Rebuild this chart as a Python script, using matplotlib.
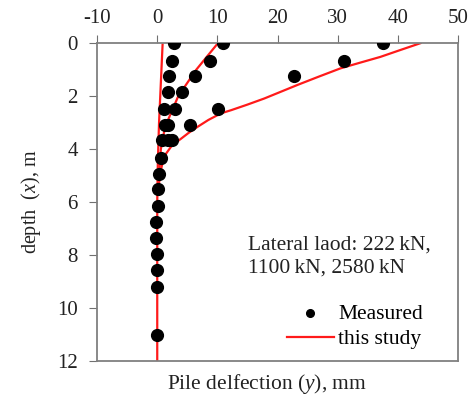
import matplotlib
matplotlib.use('Agg')
import matplotlib.pyplot as plt

plt.rcParams['font.family'] = ['Liberation Serif', 'DejaVu Serif']
plt.rcParams['mathtext.fontset'] = 'custom'
plt.rcParams['mathtext.it'] = 'Liberation Serif:italic'
plt.rcParams['mathtext.rm'] = 'Liberation Serif'
plt.rcParams['axes.unicode_minus'] = False

# measured deflections (mm) and depths (m)
meas_x = [2.8, 11.0, 37.5,
          2.5, 8.8, 31.1,
          1.9, 6.2, 22.8,
          1.8, 4.2,
          1.2, 3.0, 10.1,
          1.3, 1.8, 5.5,
          0.8, 1.8, 2.4,
          0.7, 0.3, 0.2, 0.1, -0.2, -0.2, 0.0, 0.0, -0.1, 0.0]
meas_d = [0.0, 0.0, 0.0,
          0.67, 0.67, 0.67,
          1.23, 1.23, 1.23,
          1.86, 1.86,
          2.47, 2.47, 2.47,
          3.08, 3.08, 3.08,
          3.66, 3.66, 3.66,
          4.33, 4.94, 5.52, 6.15, 6.74, 7.37, 7.94, 8.57, 9.2, 11.0]

# model curves ("this study")
c222_x = [0.9, 0.6, 0.3, 0.1, 0.0, 0.0]
c222_d = [0.0, 1.5, 3.0, 4.5, 6.0, 12.0]
c1100_x = [10.1, 6.5, 3.5, 1.3, 0.6, 0.3]
c1100_d = [0.0, 1.0, 2.0, 3.16, 4.0, 5.0]
c2580_x = [43.8, 40.3, 37.1, 33.7, 30.5, 26.8, 23.3, 20.5, 17.8, 15.0, 12.3,
           10.6, 8.5, 6.7, 5.2, 4.0, 3.0, 2.3, 1.5, 0.9, 0.5, 0.2]
c2580_d = [0.0, 0.27, 0.52, 0.74, 0.95, 1.27, 1.58, 1.84, 2.09, 2.32, 2.53,
           2.65, 2.9, 3.16, 3.39, 3.6, 3.77, 3.91, 4.16, 4.5, 4.9, 5.5]

fig = plt.figure(figsize=(4.76, 4.03), dpi=100)
ax = fig.add_axes([0.204, 0.104, 0.758, 0.789])

red = '#ff1a1a'
ax.plot(c222_x, c222_d, color=red, lw=1.6, label='this study')
ax.plot(c1100_x, c1100_d, color=red, lw=1.6)
ax.plot(c2580_x, c2580_d, color=red, lw=1.6)
ax.scatter(meas_x, meas_d, s=72, color='black', zorder=3, label='Measured')

ax.set_xlim(-10, 50)
ax.set_ylim(12, 0)
ax.set_xticks(range(-10, 51, 10))
ax.set_yticks(range(0, 13, 2))
ax.xaxis.tick_top()
ax.tick_params(direction='out', length=6, color='#707070', labelsize=15, labelcolor='#222222')
ax.tick_params(axis='y', pad=8)
ax.tick_params(axis='x', pad=5)
for s in ax.spines.values():
    s.set_color('#808080')
    s.set_linewidth(1.3)

ax.set_xlabel('Pile delfection ($y$), mm', fontsize=15.5, color='#222222')
ax.xaxis.set_label_coords(0.47, -0.035)
ax.xaxis.label.set_va('top')
ax.set_ylabel('depth  ($x$), m', fontsize=14.5, color='#222222', labelpad=10)

ax.text(0.418, 0.395, 'Lateral laod: 222\u2009kN,\n1100\u2009kN, 2580\u2009kN',
        transform=ax.transAxes, fontsize=15.5, color='#222222', va='top', linespacing=1.3)

h, l = ax.get_legend_handles_labels()
ax.legend(h[::-1], l[::-1], loc='lower right', bbox_to_anchor=(0.945, -0.01), frameon=False,
          fontsize=15.5, handlelength=2.2, handletextpad=0.2, labelspacing=0.25,
          markerscale=0.65, borderaxespad=0.3)

fig.savefig('out.png', dpi=100)
